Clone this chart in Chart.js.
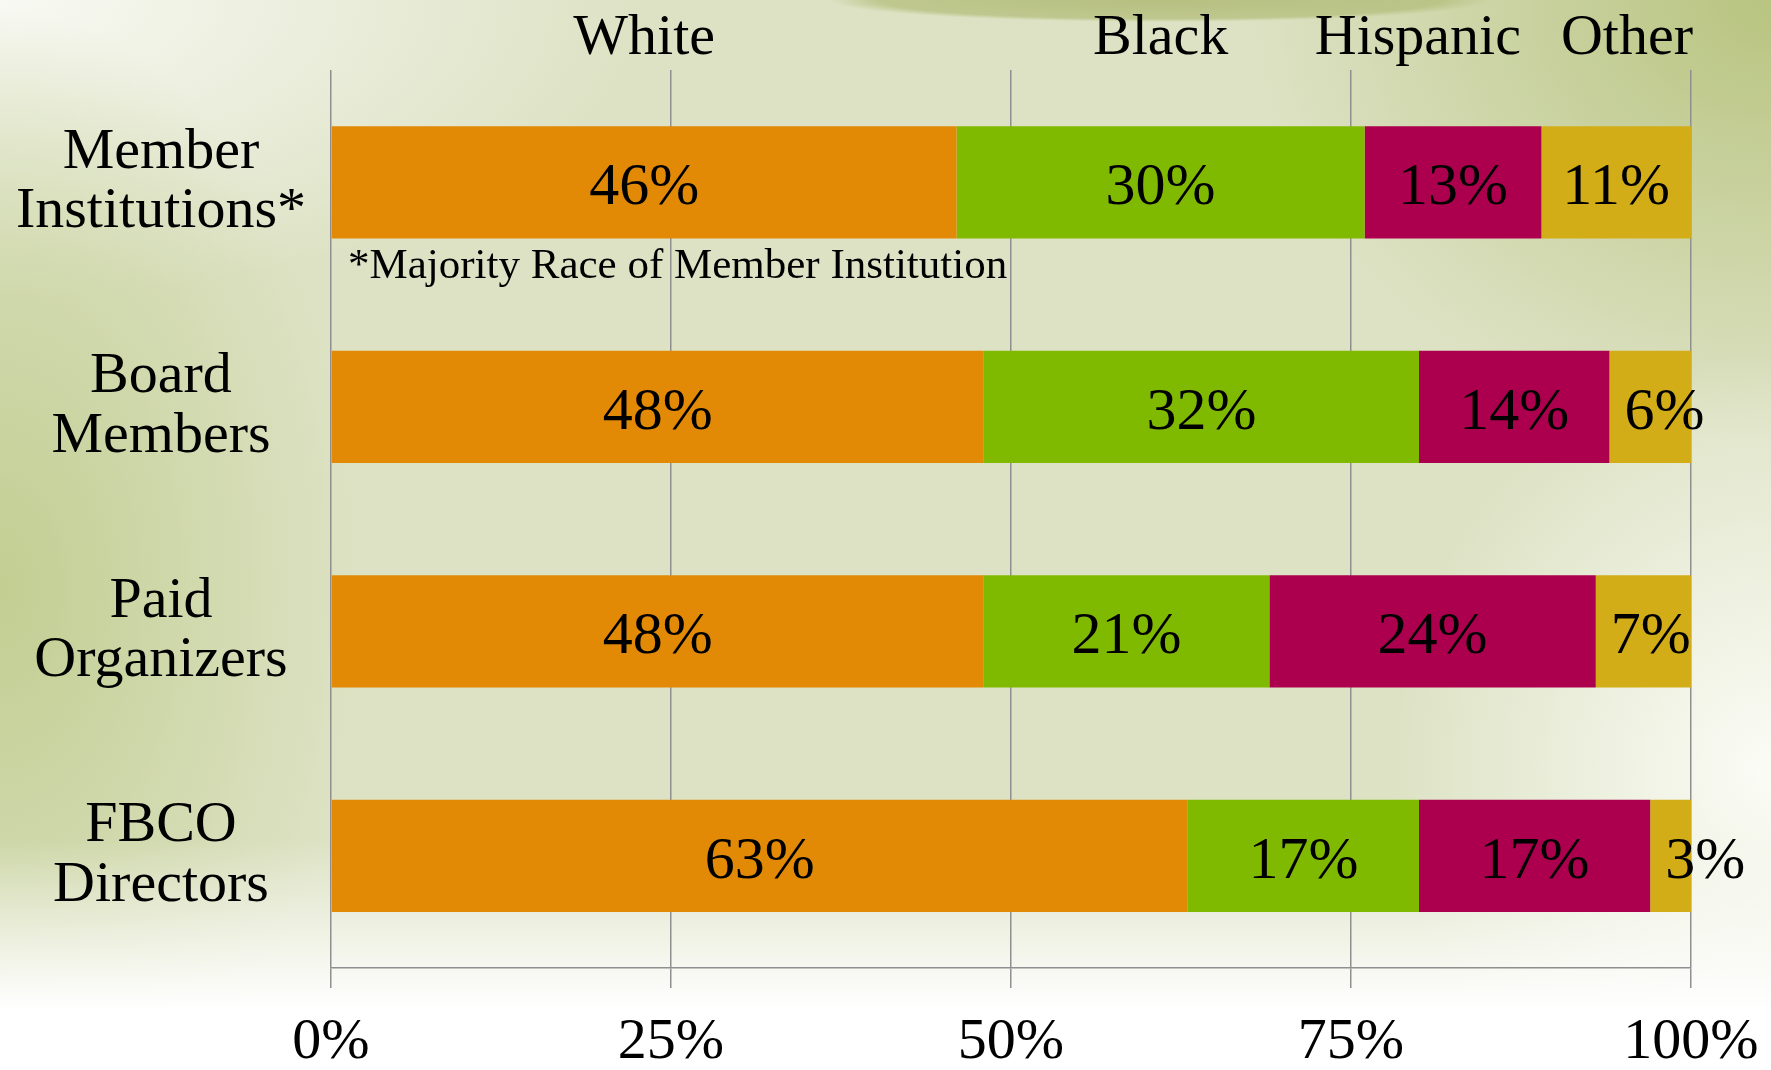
<!DOCTYPE html>
<html><head><meta charset="utf-8">
<script src="https://cdn.jsdelivr.net/npm/chart.js@4.4.1/dist/chart.umd.min.js"></script>
<style>
html,body{margin:0;padding:0;width:1771px;height:1070px;overflow:hidden;}
body{
  background:
    linear-gradient(to bottom, rgba(255,255,255,0) 0px, rgba(255,255,255,0) 840px, rgba(255,255,255,1) 1010px),
    radial-gradient(ellipse 330px 22px at 1160px 0px, rgba(178,188,120,0.9) 0%, rgba(178,188,120,0.7) 85%, rgba(178,188,120,0) 100%),
    radial-gradient(ellipse 380px 420px at 100% 72%, rgba(251,252,246,1) 0%, rgba(251,252,246,0) 100%),
    radial-gradient(ellipse 520px 440px at 100% 0%, rgba(184,196,128,1) 0%, rgba(184,196,128,0) 100%),
    radial-gradient(ellipse 360px 580px at 0% 55%, rgba(194,206,146,1) 0%, rgba(194,206,146,0) 100%),
    radial-gradient(ellipse 650px 300px at 0% 0%, rgba(248,249,243,1) 0%, rgba(248,249,243,0) 100%),
    #dde2c4;
}
#wrap{position:relative;width:1771px;height:1070px;}
canvas{display:block;}
</style></head><body>
<div id="wrap"><canvas id="c" width="1771" height="1070"></canvas></div>
<script>
// ---- data ----
const categories = [['Member','Institutions*'],['Board','Members'],['Paid','Organizers'],['FBCO','Directors']];
const seriesNames = ['White','Black','Hispanic','Other'];
const whiteValues = [46,48,48,63];
const blackValues = [30,32,21,17];
const hispanicValues = [13,14,24,17];
const otherValues = [11,6,7,3];
const xTickValues = [0,25,50,75,100];
const xTickLabels = ['0%','25%','50%','75%','100%'];
const footnote = '*Majority Race of Member Institution';

const seriesColors = ['#E28A06','#80BA00','#AC004E','#D2AD17'];
const FONT = '"Liberation Serif", "Times New Roman", serif';

const labelPlugin = {
  id: 'customLabels',
  afterDatasetsDraw(chart) {
    const ctx = chart.ctx;
    const area = chart.chartArea;
    ctx.save();
    ctx.fillStyle = '#000';
    // data labels
    ctx.font = '60px ' + FONT;
    ctx.textBaseline = 'alphabetic';
    ctx.textAlign = 'center';
    chart.data.datasets.forEach((ds, di) => {
      const meta = chart.getDatasetMeta(di);
      meta.data.forEach((el, i) => {
        const p = el.getProps(['x','y','base'], true);
        const left = Math.min(p.x, p.base), right = Math.max(p.x, p.base);
        const txt = ds.data[i] + '%';
        const w = ctx.measureText(txt).width;
        let cx = (left + right) / 2;
        if (w + 18 > right - left) cx = left + 15 + w / 2;
        ctx.fillText(txt, cx, p.y + 22);
      });
    });
    // legend labels centred over first bar's segments, last one flush with plot edge
    ctx.font = '58px ' + FONT;
    const items = chart.data.datasets.map((ds, di) => {
      const el = chart.getDatasetMeta(di).data[0];
      const p = el.getProps(['x','base'], true);
      const w = ctx.measureText(ds.label).width;
      return {text: ds.label, c: (p.x + p.base) / 2, w};
    });
    const gap = 40;
    const last = items[items.length - 1];
    last.c = area.right + 2 - last.w / 2;
    for (let k = items.length - 2; k >= 0; k--) {
      const a = items[k], b = items[k + 1];
      const maxRight = b.c - b.w / 2 - gap;
      if (a.c + a.w / 2 > maxRight) a.c = maxRight - a.w / 2;
    }
    items.forEach(it => ctx.fillText(it.text, it.c, area.top - 16));
    // footnote below first bar
    const el0 = chart.getDatasetMeta(0).data[0].getProps(['y','height'], true);
    ctx.font = '43px ' + FONT;
    ctx.textAlign = 'left';
    ctx.fillText(footnote, area.left + 17, el0.y + el0.height / 2 + 40);
    ctx.restore();
  }
};

const valueArrays = [whiteValues, blackValues, hispanicValues, otherValues];
new Chart(document.getElementById('c'), {
  type: 'bar',
  data: {
    labels: categories,
    datasets: seriesNames.map((n, i) => ({
      label: n,
      data: valueArrays[i],
      backgroundColor: seriesColors[i],
      borderWidth: 0,
      barPercentage: 1,
      categoryPercentage: 0.5
    }))
  },
  options: {
    indexAxis: 'y',
    responsive: false,
    animation: false,
    layout: {padding: {left: 0, top: 70, right: 80, bottom: 0}},
    plugins: {legend: {display: false}, tooltip: {enabled: false}},
    scales: {
      x: {
        stacked: true, min: 0, max: 100,
        afterBuildTicks: s => { s.ticks = xTickValues.map(v => ({value: v})); },
        ticks: {
          callback: (v, i) => xTickLabels[i],
          font: {family: FONT, size: 58, lineHeight: 1.2},
          color: '#000', padding: 20, maxRotation: 0, autoSkip: false
        },
        grid: {color: '#8f8f8f', lineWidth: 1.5, tickLength: 20, drawTicks: true},
        border: {display: true, color: '#8f8f8f', width: 1.5},
        afterFit: s => { s.height = 102; s.paddingLeft = 0; s.paddingRight = 0; }
      },
      y: {
        stacked: true,
        ticks: {
          font: {family: FONT, size: 58, lineHeight: 1.02},
          color: '#000', padding: 17, crossAlign: 'center', autoSkip: false
        },
        grid: {display: false},
        border: {display: false},
        afterFit: s => { s.width = 331; s.paddingTop = 0; s.paddingBottom = 0; }
      }
    }
  },
  plugins: [labelPlugin]
});
</script>
</body></html>
